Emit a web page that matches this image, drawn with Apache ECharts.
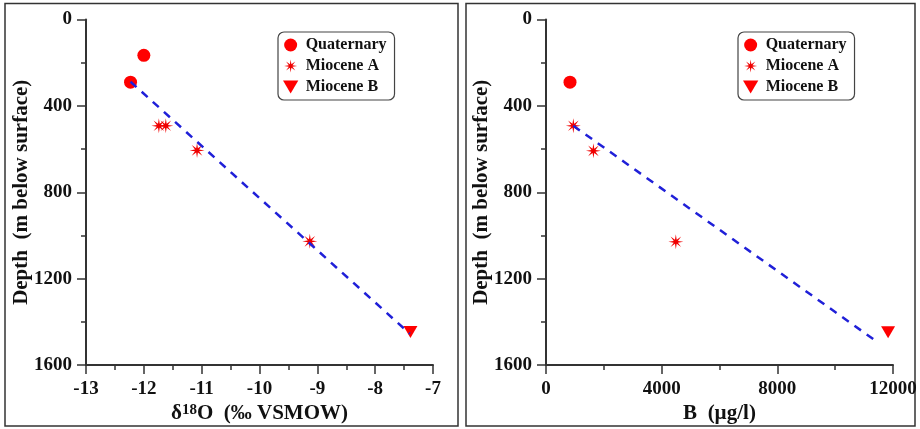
<!DOCTYPE html>
<html>
<head>
<meta charset="utf-8">
<script src="https://cdn.jsdelivr.net/npm/echarts@6/dist/echarts.min.js"></script>
<style>
  html,body{margin:0;padding:0;background:#fff;}
  #main{width:920px;height:429px;}
</style>
</head>
<body>
<div id="main"></div>
<script>
// depth in m below surface
const quatO=[[-12.0,166],[-12.23,290]];
const mioAO=[[-11.74,492],[-11.62,492],[-11.08,606],[-9.13,1027]];
const mioBO=[[-7.39,1447]];
const fitO=[[-12.23,288],[-7.40,1455]];

const quatB=[[830,290]];
const mioAB=[[945,492],[1640,608],[4490,1029]];
const mioBB=[[11830,1448]];
const fitB=[[945,492],[11500,1497]];

const legendNames=['Quaternary','Miocene A','Miocene B'];

const serif='"Liberation Serif","Times New Roman",serif';
const starPath='path://M20 10 L12.77 11.15 L17.07 17.07 L11.15 12.77 L10 20 L8.85 12.77 L2.93 17.07 L7.23 11.15 L0 10 L7.23 8.85 L2.93 2.93 L8.85 7.23 L10 0 L11.15 7.23 L17.07 2.93 L12.77 8.85 Z';
const downTri='path://M0 0 L20 0 L10 17 Z';

function plain(v){ return String(v); }

function xAxisOf(idx,min,max,interval,name){
  return {
    gridIndex:idx,type:'value',min:min,max:max,interval:interval,
    name:name,nameLocation:'middle',nameGap:37,
    nameTextStyle:{
      rich:{
        a:{fontFamily:serif,fontWeight:'bold',fontSize:21,color:'#111'},
        s:{fontFamily:serif,fontWeight:'bold',fontSize:15,color:'#111',padding:[0,0,6,0]}
      }
    },
    axisLine:{onZero:false,lineStyle:{color:'#333',width:2}},
    axisTick:{length:9,lineStyle:{color:'#333',width:1.5}},
    minorTick:{show:true,splitNumber:2,length:5,lineStyle:{color:'#333',width:1.5}},
    axisLabel:{fontFamily:serif,fontWeight:'bold',fontSize:19,color:'#111',margin:14,formatter:plain},
    splitLine:{show:false}
  };
}
function yAxisOf(idx){
  return {
    gridIndex:idx,type:'value',inverse:true,min:0,max:1600,interval:400,
    name:'Depth  (m below surface)',nameLocation:'middle',nameGap:54,nameMoveOverlap:false,
    nameTextStyle:{fontFamily:serif,fontWeight:'bold',fontSize:21,color:'#111'},
    axisLine:{onZero:false,lineStyle:{color:'#333',width:2}},
    axisTick:{length:9,lineStyle:{color:'#333',width:1.5}},
    minorTick:{show:true,splitNumber:2,length:5,lineStyle:{color:'#333',width:1.5}},
    axisLabel:{fontFamily:serif,fontWeight:'bold',fontSize:19,color:'#111',margin:14,formatter:plain},
    splitLine:{show:false}
  };
}
function legendOf(left){
  return {
    data:legendNames,orient:'vertical',left:left,top:32,
    padding:[5,8,5,5],itemGap:5,itemWidth:20,itemHeight:13,
    borderColor:'#444',borderWidth:1.2,borderRadius:6,
    textStyle:{fontFamily:serif,fontWeight:'bold',fontSize:16,color:'#111'}
  };
}
function pointsOf(idx,quat,mioA,mioB,fit){
  return [
    {name:'Quaternary',type:'scatter',xAxisIndex:idx,yAxisIndex:idx,data:quat,
      symbol:'circle',symbolSize:13,itemStyle:{color:'#ff0000',opacity:1}},
    {name:'Miocene A',type:'scatter',xAxisIndex:idx,yAxisIndex:idx,data:mioA,
      symbol:starPath,symbolSize:15,itemStyle:{color:'#f00000',opacity:1}},
    {name:'Miocene B',type:'scatter',xAxisIndex:idx,yAxisIndex:idx,data:mioB,
      symbol:downTri,symbolSize:[14,12],itemStyle:{color:'#ff0000',opacity:1}},
    {name:'fit',type:'line',xAxisIndex:idx,yAxisIndex:idx,data:fit,z:5,
      showSymbol:false,silent:true,
      lineStyle:{color:'#2020d8',width:2.5,type:[8,7]}}
  ];
}

const chart=echarts.init(document.getElementById('main'),null,{renderer:'canvas'});
chart.setOption({
  animation:false,
  backgroundColor:'#fff',
  graphic:[
    {type:'rect',shape:{x:5,y:3.5,width:453,height:422.5},style:{fill:'none',stroke:'#333',lineWidth:1.5},silent:true},
    {type:'rect',shape:{x:466,y:3.5,width:449,height:422.5},style:{fill:'none',stroke:'#333',lineWidth:1.5},silent:true}
  ],
  grid:[
    {left:86,top:19.5,width:347,height:347},
    {left:546,top:19.5,width:347,height:347}
  ],
  legend:[legendOf(278),legendOf(738)],
  xAxis:[
    xAxisOf(0,-13,-7,1,'{a|δ}{s|18}{a|O  (‰ VSMOW)}'),
    xAxisOf(1,0,12000,4000,'{a|B  (µg/l)}')
  ],
  yAxis:[yAxisOf(0),yAxisOf(1)],
  series:[].concat(
    pointsOf(0,quatO,mioAO,mioBO,fitO),
    pointsOf(1,quatB,mioAB,mioBB,fitB)
  )
});
</script>
</body>
</html>
